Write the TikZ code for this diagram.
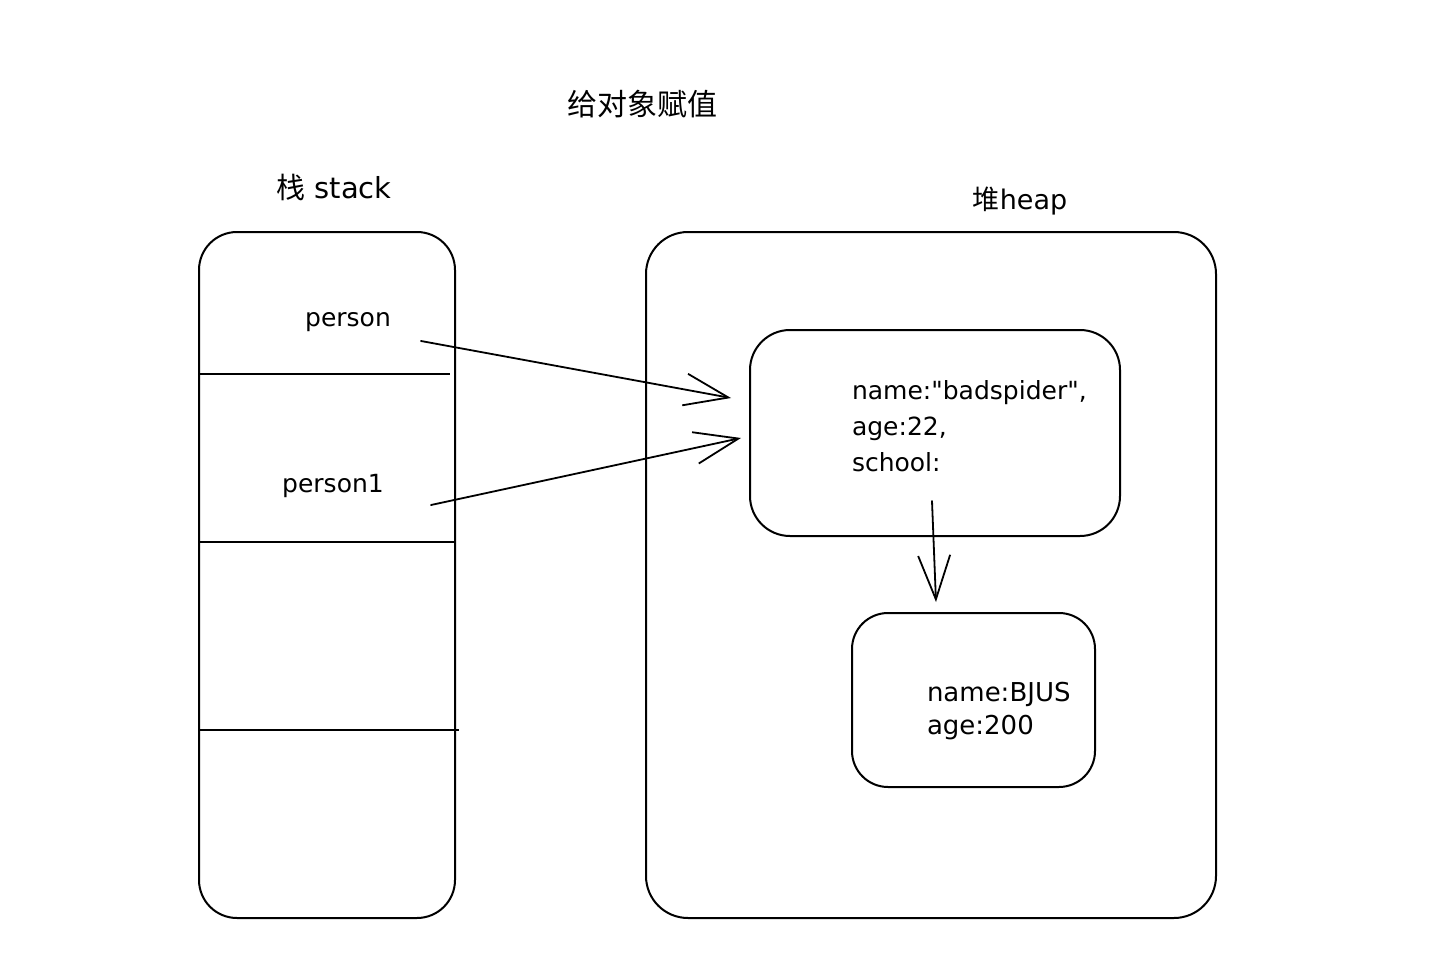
\documentclass[tikz,border=0pt]{standalone}
\usepackage{fontspec}
\setmainfont{DejaVu Sans}
\newfontfamily\cjk{Noto Sans CJK SC}
\usetikzlibrary{arrows.meta,calc}
\begin{document}
\begin{tikzpicture}[x=1pt,y=-1pt,line width=2pt,
  box/.style={draw,rectangle,inner sep=0pt},
  lbl/.style={font=\fontsize{25}{30}\selectfont,inner sep=0pt},
  hdr/.style={font=\fontsize{27}{32}\selectfont,inner sep=0pt},
  obj/.style={font=\fontsize{25}{36}\selectfont,align=left,anchor=north west,inner sep=0pt},
  arr/.style={-{Straight Barb[length=44pt,width=32pt,line width=1.8pt]},line width=1.8pt,line cap=round}]
\useasboundingbox[fill=white] (0,0) rectangle (1435,971);
% title
\node[font=\cjk\fontsize{30}{36}\selectfont,inner sep=0pt] (title) at (642,104) {给对象赋值};
% stack
\node[hdr,font=\fontsize{29}{34}\selectfont] (stacklbl) at (334,187) {{\cjk 栈} stack};
\node[box,rounded corners=38pt,minimum width=256pt,minimum height=686pt] (stack) at (327,575) {};
\draw ($(stack.north west)+(0,143)$) coordinate (d1) -- ++(252,0);
\draw ($(stack.north west)+(0,311)$) coordinate (d2) -- ++(256,0);
\draw ($(stack.north west)+(0,499)$) coordinate (d3) -- ++(261,0);
\node[lbl] (person) at (348,322) {person};
\node[lbl] (person1) at (333,486) {person1};
% heap
\node[hdr] (heaplbl) at (1020,201) {{\cjk 堆}heap};
\node[box,rounded corners=42pt,minimum width=570pt,minimum height=686pt] (heap) at (931,575) {};
\node[box,rounded corners=40pt,minimum width=370pt,minimum height=206pt] (obj1) at (935,433) {};
\node[obj] (obj1txt) at (851,380) {name:\textquotedbl badspider\textquotedbl,\\age:22,\\school:};
\node[box,rounded corners=36pt,minimum width=243pt,minimum height=174pt] (obj2) at (973.5,700) {};
\node[obj,font=\fontsize{26}{33}\selectfont] (obj2txt) at (926,681) {name:BJUS\\age:200};
% arrows
\coordinate (a1s) at (421,341);
\coordinate (a2s) at (431,505);
\draw[arr] (a1s) -- ($(obj1.west)+(-18,-35)$);
\draw[arr] (a2s) -- ($(obj1.west)+(-8,5)$);
\draw[arr] ($(obj1.south)+(-3,-36)$) -- ($(obj2.north)+(-37.5,-10)$);
\end{tikzpicture}
\end{document}
